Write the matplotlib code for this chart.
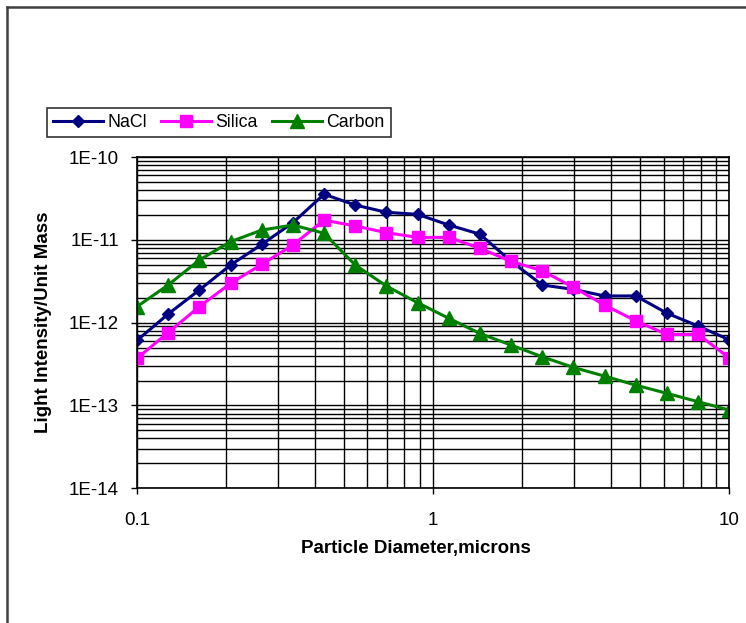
import matplotlib
matplotlib.use('Agg')
import matplotlib.pyplot as plt
from matplotlib.lines import Line2D

# particle diameters (microns)
diameter = [0.1, 0.1274, 0.1624, 0.2069, 0.2637, 0.3360, 0.4281, 0.5456, 0.6952, 0.8859,
            1.1288, 1.4384, 1.8330, 2.3357, 2.9764, 3.7927, 4.8329, 6.1585, 7.8476, 10.0]

nacl = [6.1e-13, 1.27e-12, 2.48e-12, 4.96e-12, 8.8e-12, 1.61e-11, 3.55e-11, 2.63e-11, 2.15e-11, 2.03e-11,
        1.51e-11, 1.17e-11, 5.5e-12, 2.85e-12, 2.52e-12, 2.1e-12, 2.1e-12, 1.3e-12, 9.1e-13, 6.2e-13]

silica = [3.7e-13, 7.6e-13, 1.56e-12, 2.98e-12, 5.06e-12, 8.65e-12, 1.73e-11, 1.47e-11, 1.22e-11, 1.07e-11,
          1.07e-11, 7.9e-12, 5.5e-12, 4.23e-12, 2.67e-12, 1.63e-12, 1.05e-12, 7.2e-13, 7.2e-13, 3.75e-13]

carbon = [1.56e-12, 2.85e-12, 5.7e-12, 9.5e-12, 1.31e-11, 1.51e-11, 1.2e-11, 4.96e-12, 2.77e-12, 1.74e-12,
          1.13e-12, 7.4e-13, 5.36e-13, 3.87e-13, 2.88e-13, 2.26e-13, 1.76e-13, 1.4e-13, 1.11e-13, 8.8e-14]

x_ticks = [0.1, 1, 10]
x_tick_labels = ['0.1', '1', '10']
y_ticks = [1e-14, 1e-13, 1e-12, 1e-11, 1e-10]
y_tick_labels = ['1E-14', '1E-13', '1E-12', '1E-11', '1E-10']

plt.rcParams['font.family'] = ['Liberation Sans', 'DejaVu Sans']

fig = plt.figure(figsize=(7.46, 6.23), dpi=100)
ax = fig.add_axes([137 / 746, 1 - 488.3 / 623, (729.3 - 137) / 746, (488.3 - 157) / 623])

ax.plot(diameter, nacl, color='#000080', marker='D', markersize=6.5, linewidth=2.2, label='NaCl')
ax.plot(diameter, silica, color='#FF00FF', marker='s', markersize=8, linewidth=2.2, label='Silica')
ax.plot(diameter, carbon, color='#008000', marker='^', markersize=9.5, linewidth=2.2, label='Carbon')

ax.set_xscale('log')
ax.set_yscale('log')
ax.set_xlim(0.1, 10)
ax.set_ylim(1e-14, 1e-10)

ax.set_xticks(x_ticks)
ax.set_xticklabels(x_tick_labels)
ax.set_yticks(y_ticks)
ax.set_yticklabels(y_tick_labels)
ax.tick_params(axis='both', which='major', labelsize=13.5, length=4, width=1, direction='out')
ax.tick_params(axis='x', which='major', pad=13)
ax.tick_params(axis='y', which='major', pad=9)
ax.tick_params(axis='both', which='minor', length=0, labelleft=False, labelbottom=False)

ax.grid(True, which='both', color='black', linewidth=1.0)
ax.set_axisbelow(True)
for side in ax.spines.values():
    side.set_color('black')
    side.set_linewidth(1.2)

ax.set_xlabel('Particle Diameter,microns', fontsize=13.5, fontweight='bold')
ax.xaxis.set_label_coords((416 - 137) / 592.3, -0.155)
ax.set_ylabel('Light Intensity/Unit Mass', fontsize=13.5, fontweight='bold')
ax.yaxis.set_label_coords((52 - 137) / 592.3, 0.5)

leg = fig.legend(loc='upper left', bbox_to_anchor=(47 / 746, 1 - 108 / 623), ncol=3,
                 fontsize=12.8, frameon=True, fancybox=False, handlelength=2.8,
                 handletextpad=0.25, columnspacing=0.8, borderpad=0.35, borderaxespad=0)
leg.get_frame().set_edgecolor('black')
leg.get_frame().set_linewidth(1.2)

# outer chart border (top and left edges visible)
fig.add_artist(Line2D([7 / 746, 1.0], [1 - 7 / 623, 1 - 7 / 623], color='#404040', linewidth=1.8))
fig.add_artist(Line2D([7 / 746, 7 / 746], [0, 1 - 7 / 623], color='#404040', linewidth=1.8))

fig.savefig('out.png', dpi=100)
